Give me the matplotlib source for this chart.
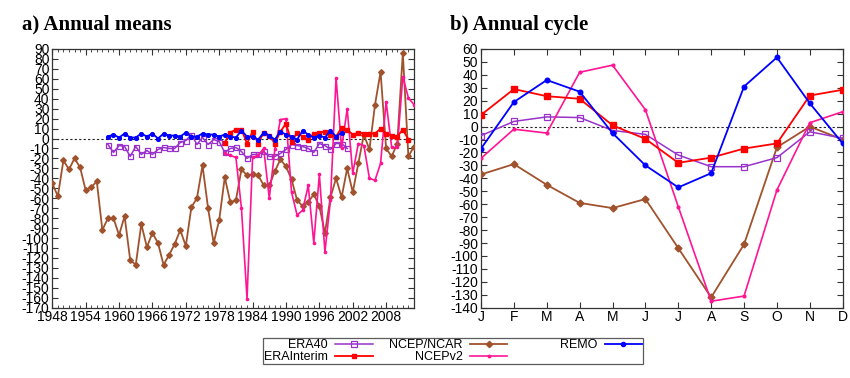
import matplotlib
matplotlib.use("Agg")
import matplotlib.pyplot as plt
from matplotlib.ticker import MultipleLocator, FixedLocator
from matplotlib.lines import Line2D
import numpy as np

plt.rcParams['font.family'] = ['Liberation Sans', 'DejaVu Sans']
plt.rcParams['axes.unicode_minus'] = False

# ---------------- data: annual means ----------------
ncep_years = list(range(1948, 2014))
ncep_vals = [-45, -58, -22, -31, -20, -29, -52, -49, -43, -92,
             -80, -80, -97, -78, -122, -127, -86, -109, -95, -105,
             -127, -117, -106, -92, -108, -69, -60, -27, -70, -105,
             -82, -39, -64, -62, -31, -37, -36, -37, -47, -47,
             -33, -21, -28, -41, -62, -68, -64, -56, -68, -95,
             -59, -40, -59, -30, -54, -25, 4, -11, 34, 67,
             -10, -18, -5, 86, -18, -8]

ncepv2_years = list(range(1979, 2014))
ncepv2_vals = [-15, -17, -19, -70, -161, -19, -17, -10, -60, -11,
               19, 20, -54, -77, -72, -47, -105, -36, -114, -62,
               61, -10, 30, -35, -5, -7, -40, -42, -25, 37,
               -9, -9, 62, 41, 34]

erai_years = list(range(1979, 2013))
erai_vals = [-4, 6, 9, 9, -5, 7, -5, 6, 3, -5,
             7, 15, -3, 6, 2, -1, 5, 6, 7, 4,
             2, 11, 9, 4, 6, 5, 5, 5, 10, 5,
             3, 2, 9, -1]

remo_years = list(range(1958, 2001))
remo_vals = [2, 4, 1, 5, 1, 1, 5, 2, 5, 0,
             5, 3, 3, 2, 6, 2, 2, 5, 4, 4,
             2, 4, 2, 1, 8, 2, 2, -1, 6, 3,
             -1, 7, 4, 2, -1, 8, 4, 1, 3, 1,
             8, 2, 6]

era40_years = list(range(1958, 2002))
era40_vals = [-6, -14, -7, -8, -18, -8, -16, -12, -16, -11,
              -9, -10, -10, -4, -2, 4, -6, 1, -6, -1,
              -3, -14, -10, -9, -13, -20, -16, -16, -13, -18,
              -18, -15, -11, -6, -7, -8, -10, -14, -5, -7,
              -11, -5, -5, -10]

# ---------------- data: annual cycle ----------------
months = ['J', 'F', 'M', 'A', 'M', 'J', 'J', 'A', 'S', 'O', 'N', 'D']
cyc_era40 = [-7, 4, 7.5, 7, -3, -6, -22, -31, -31, -24, -4, -9]
cyc_erai = [9, 29, 23.5, 21.5, 1, -9.5, -28, -24, -17, -13, 24, 28.5]
cyc_ncep = [-37, -29, -45, -59, -63, -56, -94, -132, -91, -16, 0, -10]
cyc_ncepv2 = [-24.5, -2, -5, 42, 47.5, 13, -62, -135, -131, -49, 3, 11.5]
cyc_remo = [-17, 19, 36, 27, -5, -30, -47, -36, 31, 53.5, 18, -13]

# ---------------- styles ----------------
C_ERA40 = '#9932CC'
C_ERAI = '#FF0000'
C_NCEP = '#A0522D'
C_NCEPV2 = '#FF1493'
C_REMO = '#0000FF'


def styles(scale):
    return dict(
        era40=dict(color=C_ERA40, marker='s', ms=4.0 * scale, mfc='none', mew=0.9, lw=1.1),
        erai=dict(color=C_ERAI, marker='s', ms=3.4 * scale, lw=1.3),
        ncep=dict(color=C_NCEP, marker='D', ms=3.2 * scale, lw=1.3),
        ncepv2=dict(color=C_NCEPV2, marker='o', ms=1.8 * scale, lw=1.2),
        remo=dict(color=C_REMO, marker='o', ms=3.0 * scale, lw=1.3),
    )


sa = styles(0.9)
sb = styles(1.1)

fig = plt.figure(figsize=(8.5, 3.78), dpi=100)
ax1 = fig.add_axes([0.0615, 0.186, 0.4255, 0.6844])
ax2 = fig.add_axes([0.5659, 0.186, 0.4255, 0.6844])

# Panel a
ax1.axhline(0, color='#222222', lw=0.8, ls=(0, (2, 2)), zorder=1)
ax1.plot(ncep_years, ncep_vals, **sa['ncep'], zorder=3)
ax1.plot(era40_years, era40_vals, **sa['era40'], zorder=4)
ax1.plot(erai_years, erai_vals, **sa['erai'], zorder=5)
ax1.plot(ncepv2_years, ncepv2_vals, **sa['ncepv2'], zorder=4)
ax1.plot(remo_years, remo_vals, **sa['remo'], zorder=6)
ax1.set_xlim(1948, 2013)
ax1.set_ylim(-170, 90)
ax1.xaxis.set_major_locator(FixedLocator(list(range(1948, 2013, 6))))
ax1.xaxis.set_minor_locator(MultipleLocator(1))
ax1.yaxis.set_major_locator(MultipleLocator(10))

# Panel b
mx = np.arange(1, 13)
ax2.axhline(0, color='#222222', lw=0.8, ls=(0, (2, 2)), zorder=1)
ax2.plot(mx, cyc_ncep, **sb['ncep'], zorder=3)
ax2.plot(mx, cyc_era40, **sb['era40'], zorder=4)
ax2.plot(mx, cyc_erai, **sb['erai'], zorder=5)
ax2.plot(mx, cyc_ncepv2, **sb['ncepv2'], zorder=4)
ax2.plot(mx, cyc_remo, **sb['remo'], zorder=6)
ax2.set_xlim(1, 12)
ax2.set_ylim(-140, 60)
ax2.set_xticks(mx)
ax2.set_xticklabels(months)
ax2.yaxis.set_major_locator(MultipleLocator(10))

for ax in (ax1, ax2):
    ax.tick_params(axis='both', which='major', direction='in', length=4,
                   width=0.8, top=True, right=True, labelsize=10, pad=2,
                   color='#333333')
    ax.tick_params(axis='both', which='minor', direction='in', length=2,
                   width=0.6, top=True, right=True, color='#333333')
    for sp in ax.spines.values():
        sp.set_color('#333333')
        sp.set_linewidth(0.9)

fig.text(0.026, 0.921, 'a) Annual means', fontsize=15, fontweight='bold',
         family=['Liberation Serif', 'DejaVu Serif'], va='baseline')
fig.text(0.529, 0.921, 'b) Annual cycle', fontsize=15, fontweight='bold',
         family=['Liberation Serif', 'DejaVu Serif'], va='baseline')

# Legend (label left of handle, three equal-width columns)
sl = styles(1.0)
handles = [Line2D([], [], **sl['era40']), Line2D([], [], **sl['erai']),
           Line2D([], [], **sl['ncep']), Line2D([], [], **sl['ncepv2']),
           Line2D([], [], **sl['remo']), Line2D([], [], color='none')]
labels = ['ERA40', 'ERAInterim', 'NCEP/NCAR', 'NCEPv2', 'REMO', 'NCEP/NCAR']
leg = fig.legend(handles, labels, loc='center',
                 bbox_to_anchor=(0.533, 0.0714), ncol=3, markerfirst=False,
                 fontsize=9, frameon=True, fancybox=False, handlelength=3.0,
                 labelspacing=0.0, borderpad=0.1, columnspacing=1.3,
                 handletextpad=0.6, borderaxespad=0)
leg.get_texts()[5].set_color('none')
leg.get_frame().set_edgecolor('#333333')
leg.get_frame().set_linewidth(0.9)

fig.savefig('out.png', dpi=100)
